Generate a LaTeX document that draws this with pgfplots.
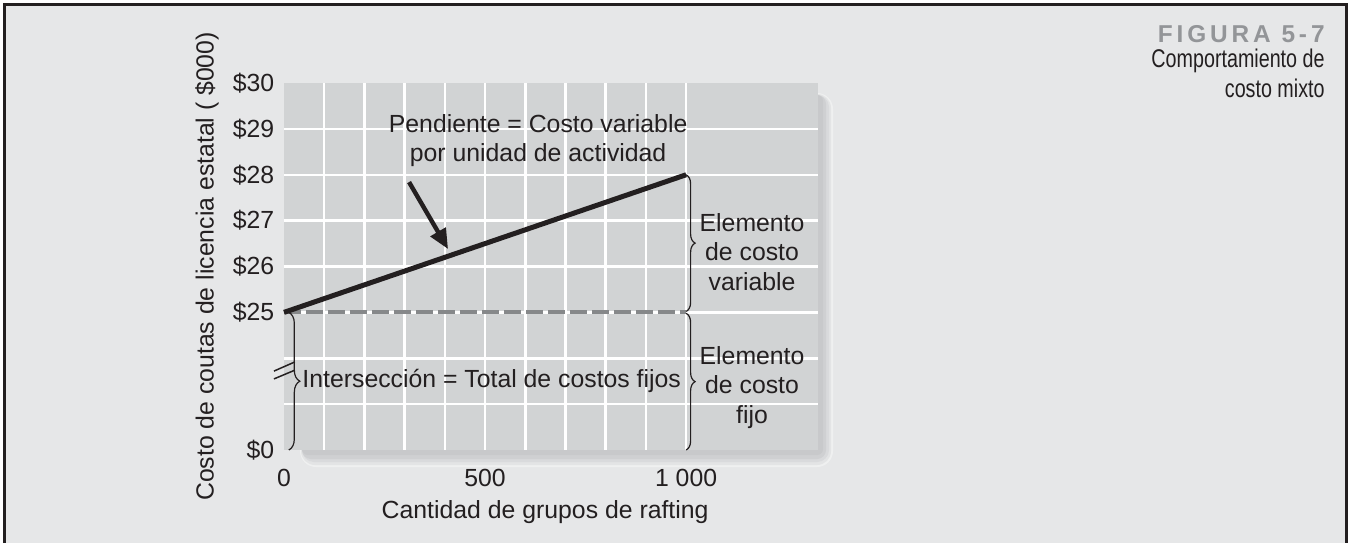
\documentclass[border=0pt]{standalone}
\usepackage{fontspec}
\setmainfont{Liberation Sans}
\newfontfamily\capfont[FakeStretch=0.77]{Liberation Sans}
\newfontfamily\figfont[LetterSpace=16]{Liberation Sans Bold}
\usepackage{pgfplots}
\pgfplotsset{compat=1.18}
\usetikzlibrary{decorations.pathreplacing,arrows.meta}

\definecolor{bg}{HTML}{E6E7E8}
\definecolor{plotbg}{HTML}{D1D3D4}
\definecolor{ink}{HTML}{231F20}
\definecolor{dashgray}{HTML}{86888A}
\definecolor{figgray}{HTML}{939598}

\begin{document}
\begin{tikzpicture}[x=0.5pt,y=0.5pt,font=\fontsize{12.4}{14.75}\selectfont,text=ink]
\useasboundingbox (0,0) rectangle (1351,543);
\fill[white] (0,0) rectangle (1351,543);
\fill[bg] (4.5,0) rectangle (1346.5,538.5);
\draw[ink,line width=1.5pt] (4.5,0) -- (4.5,538.5) -- (1346.5,538.5) -- (1346.5,0);

% soft shadow behind the plot area
\fill[fill={rgb,255:red,239;green,240;blue,240},rounded corners=8pt] (300,76) rectangle (833,450);
\fill[fill={rgb,255:red,227;green,228;blue,229},rounded corners=7pt] (301,78) rectangle (831,449);
\fill[fill={rgb,255:red,217;green,218;blue,220},rounded corners=6pt] (302,81) rectangle (829,448);
\fill[fill={rgb,255:red,207;green,208;blue,210},rounded corners=4.5pt] (302,84) rectangle (826,448);
\fill[fill={rgb,255:red,200;green,201;blue,203},rounded corners=3pt] (302,88) rectangle (823,448);

% figure caption
\node[anchor=base east,inner sep=0,text=figgray,font=\figfont\fontsize{12.2}{14}\selectfont] at (1325,501) {FIGURA 5-7};
\node[anchor=base east,inner sep=0,font=\capfont\fontsize{12.8}{14}\selectfont] at (1325,476) {Comportamiento de};
\node[anchor=base east,inner sep=0,font=\capfont\fontsize{12.8}{14}\selectfont] at (1325,446) {costo mixto};

\begin{axis}[
    at={(142pt,46.5pt)}, anchor=south west,
    scale only axis, width=267pt, height=183.5pt,
    xmin=0, xmax=1328, ymin=22, ymax=30,
    clip=false,
    axis line style={draw=none},
    axis background/.style={fill=plotbg},
    tick style={draw=none},
    major tick length=0pt,
    xtick={100,200,...,1000},
    xticklabels={,,,,500,,,,,1 000},
    extra x ticks={0}, extra x tick labels={0},
    extra x tick style={grid=none},
    ytick={23,...,29},
    yticklabels={,,\$25,\$26,\$27,\$28,\$29},
    extra y ticks={22,30}, extra y tick labels={\$0,\$30},
    extra y tick style={grid=none},
    grid=major,
    major grid style={white,line width=1.25pt},
    xticklabel style={yshift=-6pt},
    yticklabel style={xshift=-1.4pt},
    xlabel={Cantidad de grupos de rafting},
    ylabel={Costo de coutas de licencia estatal ( \$000)},
    xlabel style={at={(axis description cs:0.489,-0.169)},anchor=center},
    ylabel style={at={(axis description cs:-0.144,0.5)},anchor=center},
]
% fixed cost
\addplot[dashgray, line width=2pt, dash pattern=on 8.5pt off 2.5pt] coordinates {(0,25) (1000,25)};
% total mixed cost
\addplot[ink, line width=2.5pt] coordinates {(0,25) (1000,28)};

% axis break
\draw[ink,line width=0.75pt] (axis cs:-25,23.72) -- (axis cs:27,23.92);
\draw[ink,line width=0.75pt] (axis cs:-25,23.55) -- (axis cs:27,23.74);

% braces
\draw[ink,line width=0.6pt,decorate,decoration={brace,amplitude=5.5pt}] (axis cs:12,25) -- (axis cs:12,22);
\draw[ink,line width=0.6pt,decorate,decoration={brace,amplitude=4.5pt}] (axis cs:1000,28) -- (axis cs:1000,25.02);
\draw[ink,line width=0.6pt,decorate,decoration={brace,amplitude=4.5pt}] (axis cs:1000,24.98) -- (axis cs:1000,22);

% annotations
\node[anchor=west,inner sep=0] at (axis cs:45,23.5) {Intersección = Total de costos fijos};
\node[align=center] at (axis cs:1164,26.32) {Elemento\\de costo\\variable};
\node[align=center] at (axis cs:1164,23.37) {Elemento\\de costo\\fijo};
\node[align=center] at (axis cs:632,28.75) {Pendiente = Costo variable\\por unidad de actividad};
\draw[ink,line width=2.2pt,-{Triangle[length=10pt,width=8.5pt]}] (axis cs:311,27.84) -- (axis cs:408,26.38);
\end{axis}
\end{tikzpicture}
\end{document}
